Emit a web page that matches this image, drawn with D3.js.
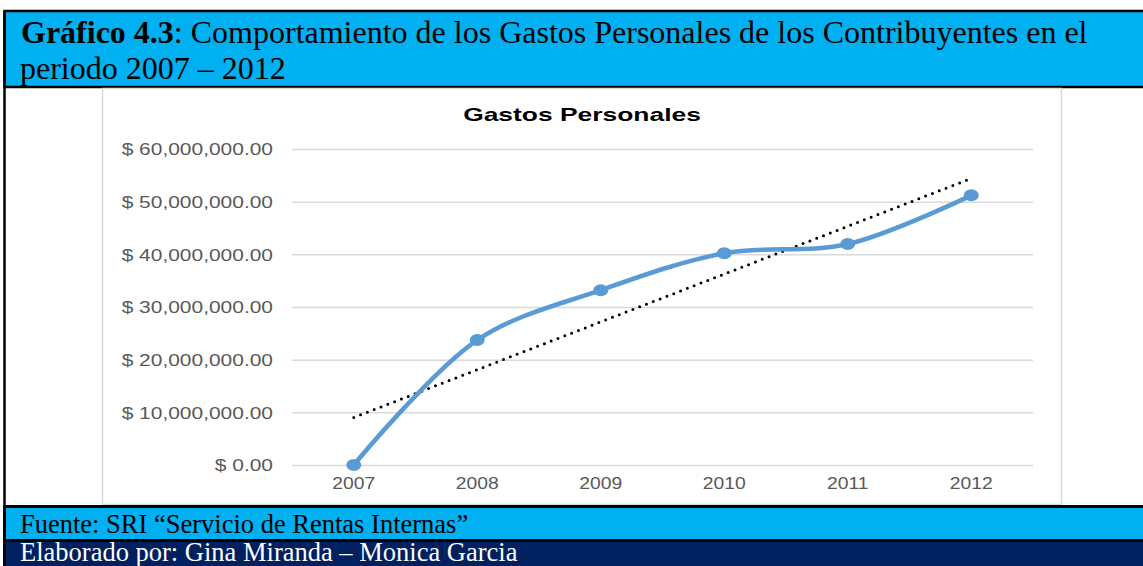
<!DOCTYPE html>
<html>
<head>
<meta charset="utf-8">
<script src="https://cdn.jsdelivr.net/npm/d3@7"></script>
<style>
  body { margin: 0; background: #fff; }
  svg { display: block; }
</style>
</head>
<body>
<svg width="1143" height="566"></svg>
<script>
const years = ["2007", "2008", "2009", "2010", "2011", "2012"];
const gastos = [0, 23730000, 33200000, 40200000, 41960000, 51200000];
const yTicks = [0, 10000000, 20000000, 30000000, 40000000, 50000000, 60000000];

const chartTitle = "Gastos Personales",
	figLabel = "Gráfico 4.3",
	figTitle1 = ": Comportamiento de los Gastos Personales de los Contribuyentes en el",
	figTitle2 = "periodo 2007 – 2012",
	fuente = "Fuente: SRI “Servicio de Rentas Internas”",
	autores = "Elaborado por: Gina Miranda – Monica Garcia";

const svg = d3.select("svg"),
	width = +svg.attr("width"),
	height = +svg.attr("height");

const serif = "'Liberation Serif', 'Times New Roman', serif",
	sans = "'Liberation Sans', Arial, sans-serif";

// header band
svg.append("rect")
	.attr("x", 4.5).attr("y", 11)
	.attr("width", width).attr("height", 76)
	.attr("fill", "#00B0F0")
	.attr("stroke", "#000").attr("stroke-width", 2.5);

const head = svg.append("text")
	.attr("x", 21).attr("y", 43)
	.style("font-family", serif).style("font-size", "32px").attr("fill", "#000");
head.append("tspan").style("font-weight", "bold").text(figLabel);
head.append("tspan").text(figTitle1);
svg.append("text")
	.attr("x", 20).attr("y", 79)
	.style("font-family", serif).style("font-size", "32px")
	.text(figTitle2);

// chart frame
svg.append("rect")
	.attr("x", 102.5).attr("y", 88.5)
	.attr("width", 959).attr("height", 416)
	.attr("fill", "#fff")
	.attr("stroke", "#D9D9D9").attr("stroke-width", 1.5);

// left page border
svg.append("line")
	.attr("x1", 4.5).attr("x2", 4.5)
	.attr("y1", 11).attr("y2", height)
	.attr("stroke", "#000").attr("stroke-width", 2.5);

// footers
svg.append("rect")
	.attr("x", 4.5).attr("y", 506.5)
	.attr("width", width).attr("height", 34)
	.attr("fill", "#00B0F0")
	.attr("stroke", "#000").attr("stroke-width", 3);
svg.append("rect")
	.attr("x", 3).attr("y", 542)
	.attr("width", width).attr("height", 30)
	.attr("fill", "#002060");
svg.append("line")
	.attr("x1", 4.5).attr("x2", 4.5)
	.attr("y1", 540).attr("y2", height)
	.attr("stroke", "#000").attr("stroke-width", 2.5);

svg.append("text")
	.attr("x", 20).attr("y", 533)
	.style("font-family", serif).style("font-size", "26.5px")
	.attr("fill", "#000")
	.text(fuente);
svg.append("text")
	.attr("x", 20).attr("y", 561)
	.style("font-family", serif).style("font-size", "26.5px")
	.attr("fill", "#fff")
	.text(autores);

// plot
const pLeft = 292, pRight = 1033, pTop = 149, pBottom = 465;

const x = d3.scaleBand()
	.domain(years)
	.range([pLeft, pRight]);

const y = d3.scaleLinear()
	.domain([0, 60000000])
	.range([pBottom, pTop]);

const sx = 1.27; // labels in the source are stretched horizontally

const yAxis = svg.append("g")
	.attr("transform", "translate(" + pLeft + ",0)")
	.call(d3.axisLeft(y)
		.tickValues(yTicks)
		.tickSize(-(pRight - pLeft))
		.tickFormat(d => "$ " + d3.format(",.2f")(d)));
yAxis.select(".domain").remove();
yAxis.selectAll(".tick line").attr("stroke", "#D9D9D9").attr("stroke-width", 1.5);
yAxis.selectAll(".tick text")
	.attr("x", 0).attr("dy", "0.35em")
	.attr("transform", "translate(-19,0) scale(" + sx + ",1)")
	.attr("text-anchor", "end")
	.attr("fill", "#595959")
	.style("font-family", sans).style("font-size", "16.5px");

const xAxis = svg.append("g")
	.attr("transform", "translate(0," + pBottom + ")")
	.call(d3.axisBottom(x).tickSize(0));
xAxis.select(".domain").remove();
xAxis.selectAll(".tick text")
	.attr("y", 0).attr("dy", null)
	.attr("transform", "translate(0,24) scale(1.17,1)")
	.attr("fill", "#595959")
	.style("font-family", sans).style("font-size", "16.5px");

svg.append("text")
	.attr("transform", "translate(582,121) scale(1.39,1)")
	.attr("text-anchor", "middle")
	.style("font-family", sans).style("font-size", "19px").style("font-weight", "bold")
	.attr("fill", "#000")
	.text(chartTitle);

// linear trend line
const idx = gastos.map((d, i) => i),
	mx = d3.mean(idx), my = d3.mean(gastos),
	slope = d3.sum(idx, i => (i - mx) * (gastos[i] - my)) / d3.sum(idx, i => (i - mx) * (i - mx)),
	icpt = my - slope * mx;
const cx = i => x(years[i]) + x.bandwidth() / 2;

svg.append("line")
	.attr("x1", cx(0)).attr("y1", y(icpt))
	.attr("x2", cx(years.length - 1)).attr("y2", y(icpt + slope * (years.length - 1)))
	.attr("stroke", "#000").attr("stroke-width", 3)
	.attr("stroke-linecap", "round")
	.attr("stroke-dasharray", "0,7.3");

// series
const line = d3.line()
	.x((d, i) => cx(i))
	.y(d => y(d))
	.curve(d3.curveCatmullRom.alpha(0.5));

svg.append("path")
	.datum(gastos)
	.attr("d", line)
	.attr("fill", "none")
	.attr("stroke", "#5B9BD5")
	.attr("stroke-width", 4.5)
	.attr("stroke-linejoin", "round");

svg.selectAll(".pt")
	.data(gastos)
	.enter().append("ellipse")
	.attr("class", "pt")
	.attr("cx", (d, i) => cx(i))
	.attr("cy", d => y(d))
	.attr("rx", 7.5).attr("ry", 6)
	.attr("fill", "#5B9BD5");
</script>
</body>
</html>
